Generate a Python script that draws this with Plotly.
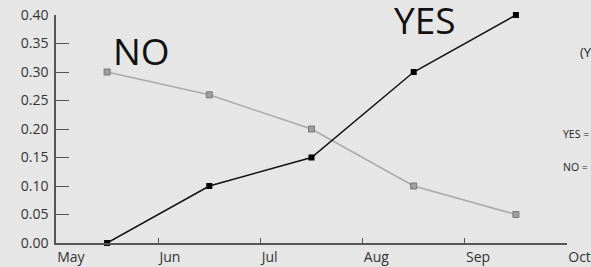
import plotly.graph_objects as go

months = ["May", "Jun", "Jul", "Aug", "Sep", "Oct"]
point_pos = [0.5, 1.5, 2.5, 3.5, 4.5]
yes_vals = [0.00, 0.10, 0.15, 0.30, 0.40]
no_vals = [0.30, 0.26, 0.20, 0.10, 0.05]
y_ticks = [0.00, 0.05, 0.10, 0.15, 0.20, 0.25, 0.30, 0.35, 0.40]

FONT = "Open Sans"
W, H = 591, 267
L, R, T, B = 56, 24, 15, 24

fig = go.Figure()
fig.add_trace(go.Scatter(
    x=point_pos, y=no_vals, mode="lines+markers",
    line=dict(color="#aaaaaa", width=1.5),
    marker=dict(symbol="square", size=6, color="#a0a0a0", line=dict(color="#777777", width=1)),
    cliponaxis=False, showlegend=False))
fig.add_trace(go.Scatter(
    x=point_pos, y=yes_vals, mode="lines+markers",
    line=dict(color="#111111", width=1.5),
    marker=dict(symbol="square", size=6, color="#000000"),
    cliponaxis=False, showlegend=False))


def px(xp, yp):
    return (xp - L) / (W - L - R), (H - B - yp) / (H - T - B)


for txt, xp, yp, sz in [("NO", 111, 50, 37), ("YES", 392, 19, 37)]:
    ax, ay = px(xp, yp)
    fig.add_annotation(x=ax, y=ay, xref="paper", yref="paper", text=txt, showarrow=False,
                       xanchor="left", yanchor="middle", font=dict(family=FONT, size=sz, color="#111111"))

for txt, xp, yp, sz in [("(Y", 578, 52, 13), ("YES =", 561, 134, 10.5), ("NO =", 561, 167, 10.5)]:
    ax, ay = px(xp, yp)
    fig.add_annotation(x=ax, y=ay, xref="paper", yref="paper", text=txt, showarrow=False,
                       xanchor="left", yanchor="middle", font=dict(family=FONT, size=sz, color="#222222"))

fig.update_layout(
    width=W, height=H,
    margin=dict(l=L, r=R, t=T, b=B, autoexpand=False),
    paper_bgcolor="#e6e6e6", plot_bgcolor="#e6e6e6",
    font=dict(family=FONT, color="#333333"),
)
fig.update_xaxes(range=[0, 5], tickvals=list(range(6)), ticktext=months,
                 showgrid=False, zeroline=False, showline=True, linecolor="#555555", linewidth=1.5,
                 ticks="inside", ticklen=5, tickcolor="#555555", tickwidth=1,
                 ticklabelposition="outside right", tickfont=dict(size=14, color="#333333"),
                 automargin=False)
fig.update_yaxes(range=[0, 0.4], tickvals=y_ticks, ticktext=[f"{v:.2f}" for v in y_ticks],
                 showgrid=False, zeroline=False, showline=True, linecolor="#555555", linewidth=1.5,
                 ticks="inside", ticklen=13, tickcolor="#555555", tickwidth=1,
                 tickfont=dict(size=14, color="#333333"), ticklabelstandoff=3,
                 automargin=False)
fig.write_html("out.html", config={"displayModeBar": False},
               post_script="document.body.style.margin='0';document.body.style.overflow='hidden';")
